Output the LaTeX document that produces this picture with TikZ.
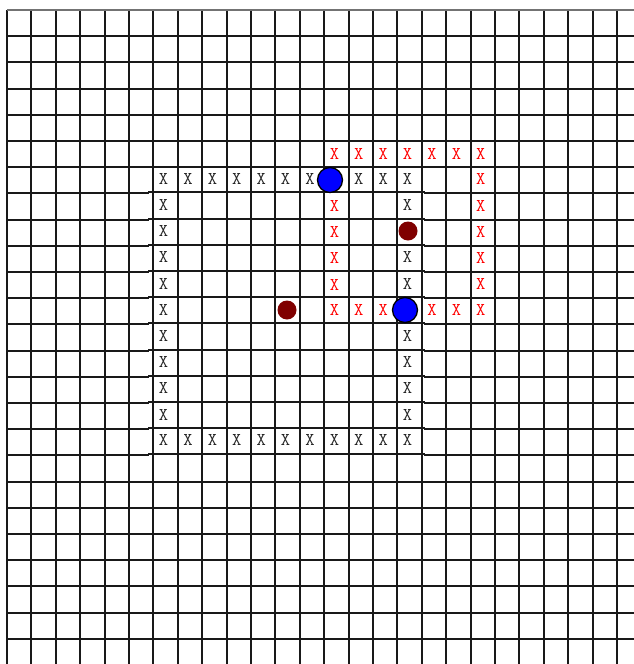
\documentclass[tikz,border=0pt]{standalone}
\definecolor{maroonc}{RGB}{128,0,0}
\begin{document}
\begin{tikzpicture}[x=1pt,y=-1pt,
  grid/.style={line width=2pt,black!90},
  bx/.style={font=\ttfamily\fontsize{18}{18}\selectfont,text=black!85,inner sep=0pt},
  rx/.style={bx,text=red},
  bluedot/.style={circle,fill=blue,draw=black,line width=1.3pt,minimum size=25pt,inner sep=0pt},
  reddot/.style={circle,fill=maroonc,minimum size=19pt,inner sep=0pt}]
\useasboundingbox (0,0) rectangle (634,664);
% vertical grid lines
\foreach \k in {0,...,25}
  \draw[grid] ({round(7+24.4*\k)},10) -- ({round(7+24.4*\k)},664);
% horizontal grid lines
\draw[grid,black!55] (7,10) -- (634,10);
\foreach \k in {1,...,6,18,19,...,24}
  \draw[grid] (7,{round(10+26.2*\k)}) -- (634,{round(10+26.2*\k)});
\foreach \k in {7,...,17}{
  \draw[grid] (7,{round(10+26.2*\k)}) -- (149,{round(10+26.2*\k)});
  \draw[grid] (148,{round(10+26.2*\k)-1}) -- (425,{round(10+26.2*\k)-1});
  \draw[grid] (424,{round(10+26.2*\k)}) -- (634,{round(10+26.2*\k)});
}
% black X square
\foreach \c in {6,...,12,14,15,16}
  \node[bx] (bx-\c-6) at ({7+24.4*(\c+0.5)-2},{10+26.2*6.5-1}) {X};
\foreach \c in {6,...,16}
  \node[bx] (bx-\c-16) at ({7+24.4*(\c+0.5)-2},{10+26.2*16.5-2}) {X};
\foreach \r in {7,...,15}
  \node[bx] (bx-6-\r) at ({7+24.4*6.5-2},{10+26.2*(\r+0.5)-1.5}) {X};
\foreach \r in {7,9,10,12,13,14,15}
  \node[bx] (bx-16-\r) at ({7+24.4*16.5-2},{10+26.2*(\r+0.5)-1.5}) {X};
% red X square
\foreach \c in {13,...,19}
  \node[rx] (rx-\c-5) at ({7+24.4*(\c+0.5)-2},{10+26.2*5.5}) {X};
\foreach \r in {6,...,11}
  \node[rx] (rx-19-\r) at ({7+24.4*19.5-2},{10+26.2*(\r+0.5)-1}) {X};
\foreach \c in {13,14,15,17,18}
  \node[rx] (rx-\c-11) at ({7+24.4*(\c+0.5)-2},{10+26.2*11.5-1}) {X};
\foreach \r in {7,...,10}
  \node[rx] (rx-13-\r) at ({7+24.4*13.5-2},{10+26.2*(\r+0.5)-0.5}) {X};
% dots
\node[bluedot] (blueA) at (330,180) {};
\node[bluedot] (blueB) at (405,310) {};
\node[reddot] (redA) at (287,310) {};
\node[reddot] (redB) at (408,231) {};
\end{tikzpicture}
\end{document}
